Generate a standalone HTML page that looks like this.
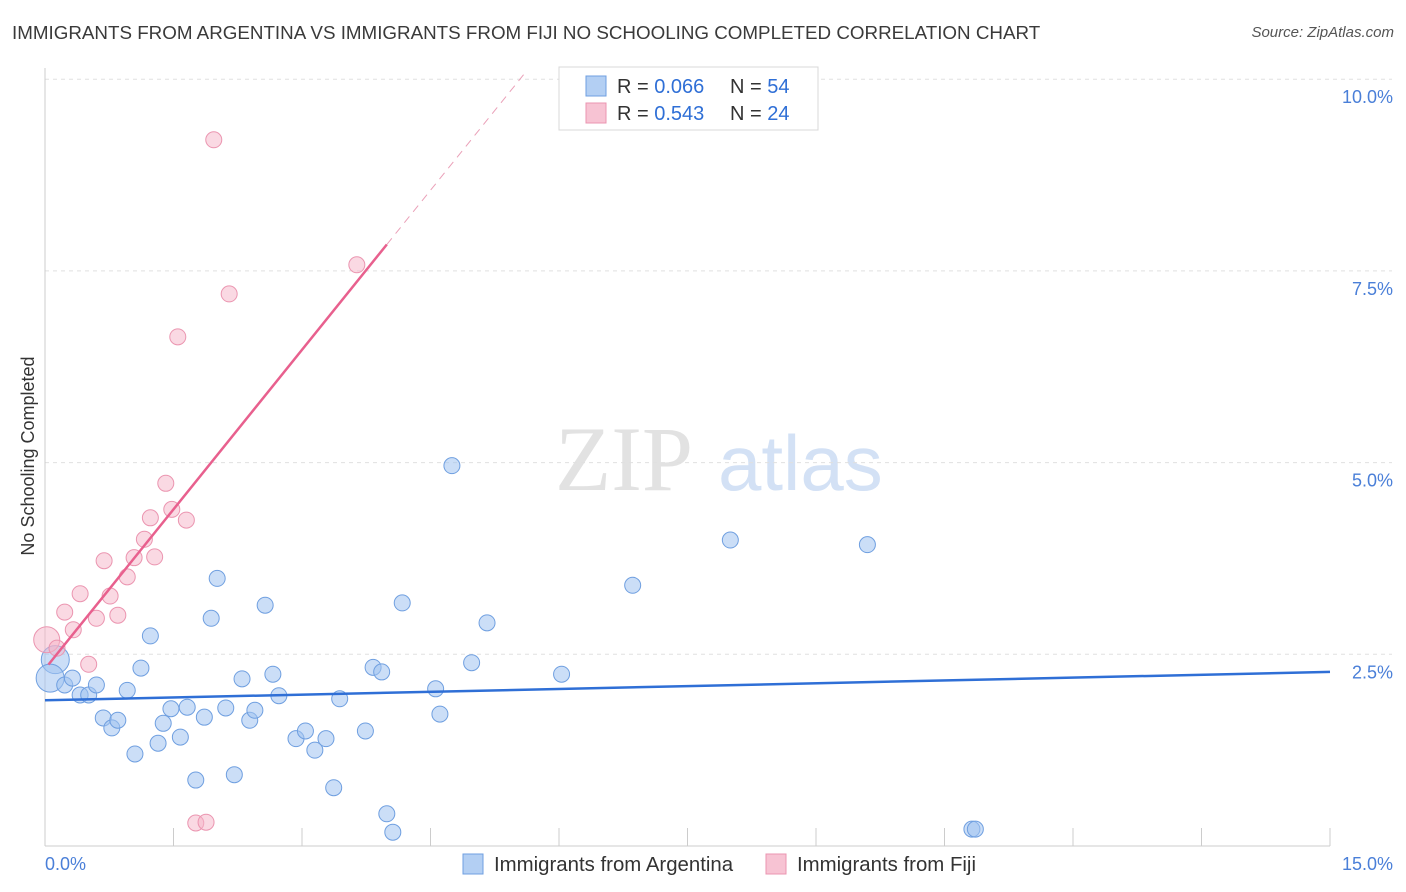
<!DOCTYPE html>
<html><head><meta charset="utf-8">
<style>
body{margin:0;background:#fff;font-family:"Liberation Sans",sans-serif;}
#wrap{position:relative;width:1406px;height:892px;overflow:hidden;}
.t{position:absolute;white-space:nowrap;}
</style></head>
<body>
<div id="wrap">
<div class="t" style="left:12px;top:22px;font-size:18.8px;color:#3a3a3a;">IMMIGRANTS FROM ARGENTINA VS IMMIGRANTS FROM FIJI NO SCHOOLING COMPLETED CORRELATION CHART</div>
<div class="t" style="right:12px;top:24px;font-size:15px;color:#555;font-style:italic;">Source: ZipAtlas.com</div>
<svg id="svg" width="1406" height="892" style="position:absolute;left:0;top:0;"></svg>
</div>
<script>
const xTicks=[0,1.5,3,4.5,6,7.5,9,10.5,12,13.5,15];
const yTicks=[2.5,5,7.5,10];
const yTickLabels=["2.5%","5.0%","7.5%","10.0%"];
const argX=[0.12,0.06,0.23,0.32,0.41,0.51,0.60,0.68,0.78,0.85,0.96,1.05,1.12,1.23,1.32,1.38,1.47,1.58,1.66,1.76,1.86,1.94,2.01,2.11,2.21,2.30,2.39,2.45,2.57,2.66,2.73,2.93,3.04,3.15,3.28,3.37,3.44,3.74,3.83,3.93,3.99,4.06,4.17,4.56,4.61,4.75,4.98,5.16,6.03,6.86,8.00,9.60,10.82,10.86];
const argY=[2.43,2.19,2.10,2.19,1.97,1.97,2.10,1.67,1.54,1.64,2.03,1.20,2.32,2.74,1.34,1.60,1.79,1.42,1.81,0.86,1.68,2.97,3.49,1.80,0.93,2.18,1.64,1.77,3.14,2.24,1.96,1.40,1.50,1.25,1.40,0.76,1.92,1.50,2.33,2.27,0.42,0.18,3.17,2.05,1.72,4.96,2.39,2.91,2.24,3.40,3.99,3.93,0.22,0.22];
const fijiX=[0.02,0.14,0.23,0.33,0.41,0.51,0.60,0.69,0.76,0.85,0.96,1.04,1.16,1.23,1.28,1.41,1.48,1.55,1.65,1.76,1.88,1.97,2.15,3.64];
const fijiY=[2.69,2.58,3.05,2.82,3.29,2.37,2.97,3.72,3.26,3.01,3.51,3.76,4.00,4.28,3.77,4.73,4.39,6.64,4.25,0.30,0.31,9.21,7.20,7.58];
const argTrend=[1.90,2.27];
const fijiTrend=[2.31,1.387];

const NS="http://www.w3.org/2000/svg";
const svg=document.getElementById('svg');
const X0=45,X1=1330,Y0=846,PPU=191.7/2.5;
const sx=v=>X0+v/15*(X1-X0);
const sy=v=>Y0-v*PPU;
function el(tag,attrs,parent){const e=document.createElementNS(NS,tag);for(const k in attrs)e.setAttribute(k,attrs[k]);(parent||svg).appendChild(e);return e;}

let wm=el('text',{x:555,y:490,'font-size':92,'font-family':'Liberation Serif, serif',fill:'#e2e2e2'});
wm.textContent='ZIP';


let wm2=el('text',{x:718,y:490,'font-size':78,'font-family':'Liberation Sans, sans-serif',fill:'#d3e1f5'});
wm2.textContent='atlas';



yTicks.forEach((v,i)=>{
 let g=el('line',{x1:X0,x2:1392,y1:sy(v),y2:sy(v),stroke:'#e0e0e0','stroke-dasharray':'4,4'});
 
 
 let t=el('text',{x:1393,y:sy(v)+24,'text-anchor':'end','font-size':18,fill:'#4a7fd8'});
 t.textContent=yTickLabels[i];
 
 
});
let ya=el('line',{x1:X0,x2:X0,y1:68,y2:Y0,stroke:'#ccc'});


let xa=el('line',{x1:X0,x2:X1,y1:Y0,y2:Y0,stroke:'#ccc'});


xTicks.forEach(v=>{
 let t=el('line',{x1:sx(v),x2:sx(v),y1:Y0,y2:Y0-18,stroke:'#ccc'});
 
 
});
let xl0=el('text',{x:45,y:870,'font-size':18,fill:'#4a7fd8'});xl0.textContent='0.0%';


let xl1=el('text',{x:1393,y:870,'text-anchor':'end','font-size':18,fill:'#4a7fd8'});xl1.textContent='15.0%';


let yt=el('text',{x:34,y:456,'font-size':18,fill:'#333',transform:'rotate(-90 34 456)','text-anchor':'middle'});yt.textContent='No Schooling Completed';



argX.forEach((x,i)=>{
 const big=i<2;
 let c=el('circle',{cx:sx(x),cy:sy(argY[i]),r:big?14:8,fill:'rgba(160,195,240,0.55)',stroke:'#6f9fe0','stroke-width':1});
 
 
});
fijiX.forEach((x,i)=>{
 const big=i==0;
 let c=el('circle',{cx:sx(x),cy:sy(fijiY[i]),r:big?13:8,fill:'rgba(245,180,200,0.5)',stroke:'#eb95b0','stroke-width':1});
 
 
});
let bt=el('line',{x1:sx(0),y1:sy(argTrend[0]),x2:sx(15),y2:sy(argTrend[1]),stroke:'#2f6fd6','stroke-width':2.5});


const fy=x=>fijiTrend[0]+fijiTrend[1]*x;
let pt=el('line',{x1:sx(0.04),y1:sy(fy(0.04)),x2:sx(3.99),y2:sy(fy(3.99)),stroke:'#e8608e','stroke-width':2.5});


const xEnd=(10.1-fijiTrend[0])/fijiTrend[1];
let pd=el('line',{x1:sx(3.99),y1:sy(fy(3.99)),x2:sx(xEnd),y2:sy(fy(xEnd)),stroke:'#eaa0b8','stroke-width':1,'stroke-dasharray':'8,6'});



let lb=el('rect',{x:559,y:67,width:259,height:63,fill:'#fff',stroke:'#d8d8d8'});


[[0,'0.066','54','rgba(160,195,240,0.8)','#6f9fe0'],[1,'0.543','24','rgba(245,180,200,0.8)','#eb95b0']].forEach(r=>{
 const y=86+r[0]*27;
 let s=el('rect',{x:586,y:y-10,width:20,height:20,fill:r[3],stroke:r[4]});
 
 
 let t=el('text',{x:617,y:y+7,'font-size':20,fill:'#333'});
 t.innerHTML='R = <tspan fill="#2f6fd6">'+r[1]+'</tspan><tspan x="730">N = </tspan><tspan fill="#2f6fd6">'+r[2]+'</tspan>';
 
 
});
[[463,'Immigrants from Argentina','rgba(160,195,240,0.8)','#6f9fe0'],[766,'Immigrants from Fiji','rgba(245,180,200,0.8)','#eb95b0']].forEach(r=>{
 let s=el('rect',{x:r[0],y:854,width:20,height:20,fill:r[2],stroke:r[3]});
 
 
 let t=el('text',{x:r[0]+31,y:871,'font-size':20.4,fill:'#333'});
 t.textContent=r[1];
 
 
});
</script>
</body></html>
